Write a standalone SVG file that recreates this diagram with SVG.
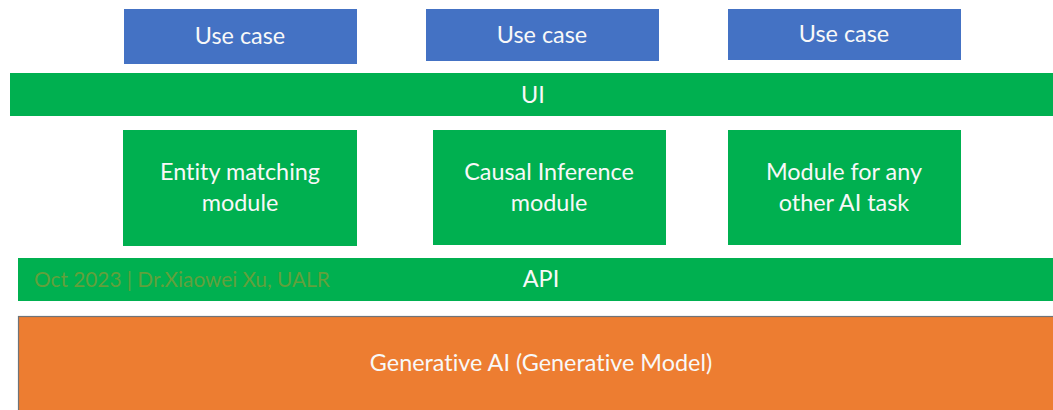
<svg xmlns="http://www.w3.org/2000/svg" width="1053" height="410" viewBox="0 0 1053 410">
  <style>
    .uc { fill: #4472C4; }
    .gr { fill: #00B050; }
    .base { fill: #ED7D31; stroke: #6f7378; stroke-width: 1.2; }
    .lbl { font-family: Lato, "Open Sans", sans-serif; font-size: 23.4px; fill: #F8F8F8; text-anchor: middle; dominant-baseline: central; font-variant-ligatures: none; }
    .note { font-family: Lato, sans-serif; font-size: 20.8px; fill: #62a03c; font-variant-ligatures: none; }
  </style>
  <rect x="0" y="0" width="1053" height="410" fill="#FFFFFF"/>

  <!-- use cases -->
  <g id="usecase1"><rect class="uc" x="124" y="9" width="233" height="55"/><text class="lbl" x="240" y="35">Use case</text></g>
  <g id="usecase2"><rect class="uc" x="426" y="9" width="233" height="52"/><text class="lbl" x="542" y="34">Use case</text></g>
  <g id="usecase3"><rect class="uc" x="728" y="9" width="233" height="51"/><text class="lbl" x="844" y="33">Use case</text></g>

  <!-- UI layer -->
  <g id="ui"><rect class="gr" x="10" y="73" width="1043" height="43"/><text class="lbl" x="533" y="94">UI</text></g>

  <!-- task modules -->
  <g id="entity"><rect class="gr" x="123" y="130" width="234" height="116"/>
    <text class="lbl" x="240" y="171">Entity matching</text><text class="lbl" x="240" y="202">module</text></g>
  <g id="causal"><rect class="gr" x="433" y="130" width="233" height="115"/>
    <text class="lbl" x="549" y="171">Causal Inference</text><text class="lbl" x="549" y="202">module</text></g>
  <g id="other"><rect class="gr" x="728" y="130" width="233" height="115"/>
    <text class="lbl" x="844" y="171">Module for any</text><text class="lbl" x="844" y="202">other AI task</text></g>

  <!-- API layer -->
  <g id="api"><rect class="gr" x="18" y="258" width="1035" height="43"/><text class="lbl" x="541" y="278">API</text>
    <text class="note" x="34" y="287">Oct 2023 | Dr.Xiaowei Xu, UALR</text></g>

  <!-- generative model base -->
  <g id="genai"><rect class="base" x="18.5" y="316.5" width="1040" height="100"/>
    <text class="lbl" x="541" y="362">Generative AI (Generative Model)</text></g>

  <g id="connectors"></g>
</svg>
